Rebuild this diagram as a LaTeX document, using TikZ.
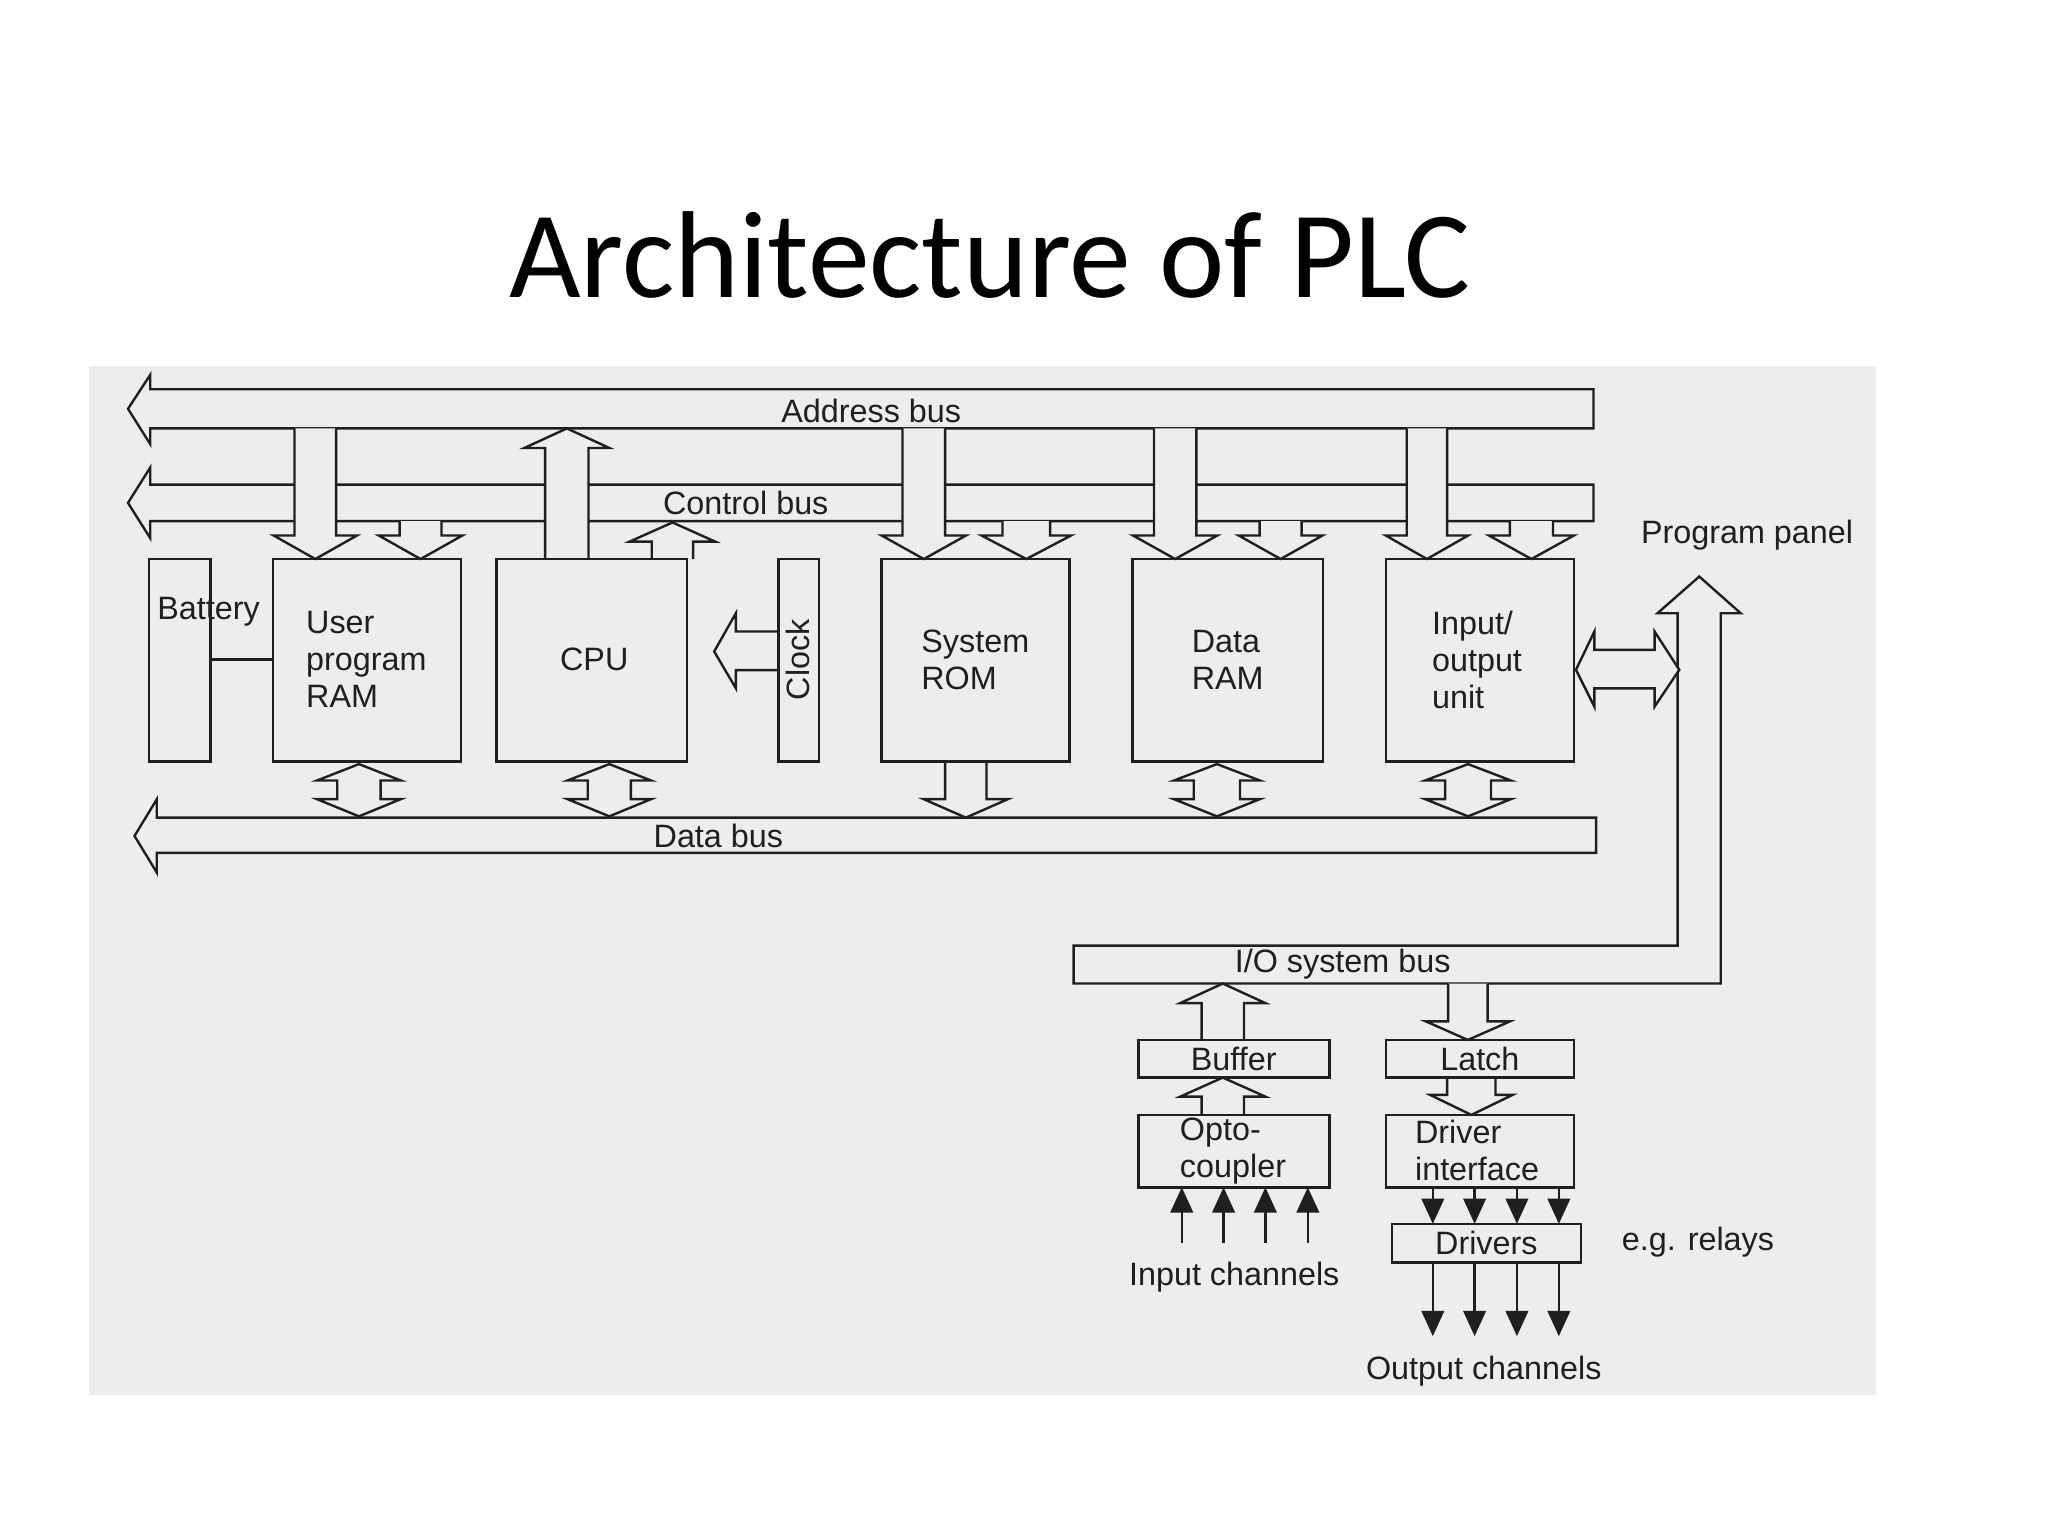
\documentclass[tikz,border=0pt]{standalone}
\usepackage{fontspec}
\setmainfont{Liberation Sans}
\newfontfamily\titlefont{Carlito}
\usetikzlibrary{arrows.meta}
\definecolor{bgc}{gray}{0.93}
\definecolor{ink}{gray}{0.12}
\newcommand\pipe[6]{% x1,x2,ybase,yheadbase,ytip,headoverhang
 \fill[bgc] (#1,#3) -- (#1,#4) -- ({#1-#6},#4) -- ({(#1+#2)/2},#5) -- ({#2+#6},#4) -- (#2,#4) -- (#2,#3) -- cycle;
 \draw[ln] (#1,#3) -- (#1,#4) -- ({#1-#6},#4) -- ({(#1+#2)/2},#5) -- ({#2+#6},#4) -- (#2,#4) -- (#2,#3);}
\newcommand\dblv[7]{% x1,x2,toptip,topbase,botbase,bottip,overhang
 \filldraw[ln,fill=bgc] ({(#1+#2)/2},#3) -- ({#2+#7},#4) -- (#2,#4) -- (#2,#5) -- ({#2+#7},#5) -- ({(#1+#2)/2},#6) -- ({#1-#7},#5) -- (#1,#5) -- (#1,#4) -- ({#1-#7},#4) -- cycle;}
\begin{document}
\begin{tikzpicture}[x=0.016327cm,y=-0.016327cm,
  ln/.style={draw=ink,line width=0.85pt},
  blk/.style={draw=ink,line width=0.9pt},
  lbl/.style={text=ink,font=\fontsize{11.5}{12.6}\selectfont,inner sep=0pt,align=left},
  outarr/.style={draw=ink,line width=0.9pt,-{Triangle[length=9pt,width=8pt]}}]
\useasboundingbox (0,0) rectangle (1568,1176);
\fill[white] (0,0) rectangle (1568,1176);
\fill[bgc] (68,280) rectangle (1436,1068);
\node[font=\titlefont\fontsize{44}{50}\selectfont,anchor=base] (title) at (758,228) {Architecture of PLC};

% buses
\filldraw[ln,fill=bgc] (1220,298) -- (115,298) -- (115,287) -- (98,313) -- (115,340) -- (115,328) -- (1220,328) -- cycle;
\filldraw[ln,fill=bgc] (1220,371) -- (115,371) -- (115,358) -- (98,385) -- (115,412) -- (115,399) -- (1220,399) -- cycle;
\filldraw[ln,fill=bgc] (1222,626) -- (120,626) -- (120,612) -- (103,640) -- (120,668) -- (120,653) -- (1222,653) -- cycle;
\node[lbl] (abus) at (667,315) {Address bus};
\node[lbl] (cbus) at (571,385) {Control bus};
\node[lbl] (dbus) at (550,640) {Data bus};

% address bus arrows down
\pipe{225.5}{257.3}{328}{410}{428}{16}
\pipe{691}{723.6}{328}{410}{428}{16}
\pipe{883.5}{916}{328}{410}{428}{16}
\pipe{1077}{1108}{328}{410}{428}{16}
% control bus arrows down
\pipe{306}{338}{399}{410}{428}{16}
\pipe{767.5}{804}{399}{410}{428}{16}
\pipe{964.4}{996.5}{399}{410}{428}{16}
\pipe{1156}{1189}{399}{410}{428}{16}
% CPU up arrows
\pipe{417.4}{450.6}{428}{343}{328}{16}
\pipe{499}{530.7}{428}{414.7}{400}{17}
% clock arrow
\fill[bgc] (596,483.5) -- (563.4,483.5) -- (563.4,469.5) -- (546.8,498.8) -- (563.4,527) -- (563.4,513) -- (596,513) -- cycle;
\draw[ln] (596,483.5) -- (563.4,483.5) -- (563.4,469.5) -- (546.8,498.8) -- (563.4,527) -- (563.4,513) -- (596,513);

% data bus arrows
\dblv{258.2}{291.4}{585}{597.6}{611.8}{625}{15.6}
\dblv{450}{483}{585}{597.6}{611.8}{625}{15.6}
\pipe{723.6}{755.3}{583}{611.8}{626}{16.5}
\dblv{914}{949.4}{585}{597.6}{611.8}{625}{15.3}
\dblv{1106.4}{1141.5}{585}{597.6}{611.8}{625}{15.4}

% blocks (drawn over arrow ends)
\draw[blk] (114,428) rectangle (161,583);
\draw[ln] (161,505) -- (209,505);
\node[lbl,anchor=west] (battery) at (120,468) {Battery};
\draw[blk] (209,428) rectangle (353,583);
\node[lbl,anchor=west,font=\fontsize{11.5}{13.2}\selectfont] (uram) at (234,505) {User\\program\\RAM};
\draw[blk] (380,428) rectangle (526,583);
\node[lbl] (cpu) at (455,505) {CPU};
\draw[blk] (596,428) rectangle (627,583);
\node[lbl,rotate=90] (clock) at (611,505) {Clock};
\draw[blk] (675,428) rectangle (819,583);
\node[lbl,anchor=west,font=\fontsize{11.5}{13.2}\selectfont] (rom) at (705,505) {System\\ROM};
\draw[blk] (867,428) rectangle (1013,583);
\node[lbl,anchor=west,font=\fontsize{11.5}{13.2}\selectfont] (dram) at (912,505) {Data\\RAM};
\draw[blk] (1061,428) rectangle (1205,583);
\node[lbl,anchor=west,font=\fontsize{11.5}{13.2}\selectfont] (io) at (1096,505) {Input/\\output\\unit};

% program panel and I/O system bus
\filldraw[ln,fill=bgc] (1284.4,469.5) -- (1269,469.5) -- (1301,441.4) -- (1332.7,469.5) -- (1317.4,469.5) -- (1317.4,753) -- (822,753) -- (822,724) -- (1284.4,724) -- cycle;
\filldraw[ln,fill=bgc] (1206.6,512.8) -- (1220.7,483.5) -- (1220.7,497.5) -- (1266.8,497.5) -- (1266.8,483.5) -- (1285.7,512.8) -- (1266.8,541) -- (1266.8,527) -- (1220.7,527) -- (1220.7,541) -- cycle;
\node[lbl,anchor=west] (panel) at (1256,410) {Program panel};
\node[lbl] (iobus) at (1028,738) {I/O system bus};

% I/O section arrows
\pipe{920}{952.4}{796.2}{768}{753}{16.4}
\pipe{920}{952.4}{853.6}{839.6}{825}{16.4}
\pipe{1108.7}{1139}{753}{782}{796.2}{17}
\pipe{1108}{1145}{824.8}{838.3}{853.6}{13}

% I/O section blocks
\draw[blk] (871.6,796.2) rectangle (1017.7,824.8);
\node[lbl] (buffer) at (944.6,810.5) {Buffer};
\draw[blk] (1061,796.2) rectangle (1205,824.8);
\node[lbl] (latch) at (1133,810.5) {Latch};
\draw[blk] (871.6,853.6) rectangle (1017.7,909);
\node[lbl,anchor=west,font=\fontsize{11.5}{13.2}\selectfont] (opto) at (903,881) {Opto-\\coupler};
\draw[blk] (1061,853.6) rectangle (1205,909);
\node[lbl,anchor=west,font=\fontsize{11.5}{13.2}\selectfont] (drvif) at (1083,881) {Driver\\interface};
\draw[blk] (1065.7,937) rectangle (1210.3,966.4);
\node[lbl] (drivers) at (1138,951.7) {Drivers};

% input / output channels
\foreach \x/\n in {904.8/a,936.8/b,968.8/c,1001.3/d}
  {\coordinate (in\n) at (\x,952); \draw[outarr] (in\n) -- (\x,909);}
\foreach \x/\n in {1097/a,1129/b,1161.4/c,1193.5/d}
  {\draw[outarr] (\x,909) -- (\x,937);
   \coordinate (out\n) at (\x,1023); \draw[outarr] (\x,966.4) -- (out\n);}
\node[lbl] (inch) at (945,978) {Input channels};
\node[lbl] (outch) at (1136,1050) {Output channels};
\node[lbl] (relays) at (1300,951) {e.g. relays};
\end{tikzpicture}
\end{document}
